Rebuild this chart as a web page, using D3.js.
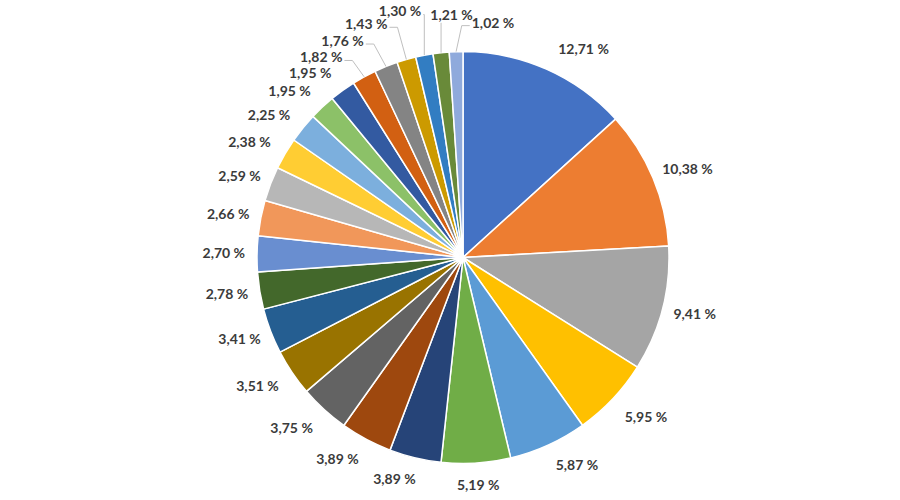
<!DOCTYPE html>
<html>
<head>
<meta charset="utf-8">
<script src="https://cdn.jsdelivr.net/npm/d3@7"></script>
<style>
  body { margin: 0; background: #fff; }
  text { font-family: Lato, "DejaVu Sans", sans-serif; font-weight: 700; }
</style>
</head>
<body>
<svg id="chart" width="900" height="500"></svg>
<script>
// share of each slice, clockwise from 12 o'clock
const values = [12.71, 10.38, 9.41, 5.95, 5.87, 5.19, 3.89, 3.89, 3.75, 3.51, 3.41,
  2.78, 2.70, 2.66, 2.59, 2.38, 2.25, 1.95, 1.95, 1.82, 1.76, 1.43, 1.30, 1.21, 1.02];

// office palette as excel cycles it
const colors = [
  "#4472C4", "#ED7D31", "#A5A5A5", "#FFC000", "#5B9BD5", "#70AD47",
  "#264478", "#9E480E", "#636363", "#997300", "#255E91", "#43682B",
  "#698ED0", "#F1975A", "#B7B7B7", "#FFCD33", "#7CAFDD", "#8CC168",
  "#335AA1", "#D26012", "#848484", "#CC9A00", "#327DC2", "#698A39",
  "#8FAADC"
];

// hand moves for crowded labels: index -> [dx, dy, leader line?]
const nudges = {
  0: [22, 0], 3: [9, 3], 4: [15, 0], 6: [-13, 0], 7: [-13, 0], 8: [-10, 2], 9: [-7, 1],
  15: [-7, 0], 16: [-8, 1], 17: [-10, 0], 18: [-13, 1],
  19: [-27, 0, 1], 20: [-31, -5, 1], 21: [-31, -14, 1], 22: [-18, -22, 1],
  23: [14, -16, 1], 24: [38, -7, 1]
};

const [cx, cy, R] = [463, 257.5, 206];
const svg = d3.select("#chart");
const g = svg.append("g").attr("transform", `translate(${cx},${cy})`);

const pie = d3.pie().sort(null).value(d => d);
const arcs = pie(values);
const arc = d3.arc().innerRadius(0).outerRadius(R);
const edge = d3.arc().innerRadius(R).outerRadius(R);

g.selectAll("path.slice").data(arcs).enter().append("path")
  .attr("class", "slice")
  .attr("d", arc)
  .attr("fill", (d, i) => colors[i])
  .attr("stroke", "#fff")
  .attr("stroke-width", 1.5)
  .attr("stroke-linejoin", "round");

const fmt = v => d3.format(".2f")(v).replace(".", ",") + " %";

const lines = g.append("g");
const labels = g.selectAll("text.lab").data(arcs).enter().append("text")
  .attr("class", "lab")
  .attr("text-anchor", "middle")
  .attr("dy", "0.35em")
  .attr("font-size", 14)
  .attr("fill", "#3b3b3b")
  .text(d => fmt(d.value));

labels.each(function(d, i) {
  const w = this.getBBox().width;
  const a = (d.startAngle + d.endAngle) / 2;
  const n = nudges[i] || [0, 0];
  const x = Math.sin(a) * (R + 12 + w / 2) + n[0];
  const y = -Math.cos(a) * (R + 22) + n[1];
  d3.select(this).attr("x", x).attr("y", y);
  if (n[2]) {
    const p = edge.centroid(d);
    const ly = y + 3;
    let pts;
    if (p[0] > x + w / 2) {
      pts = [[x + w / 2 + 2, ly], [Math.min(x + w / 2 + 10, p[0]), ly], p];
    } else if (p[0] < x - w / 2) {
      pts = [[x - w / 2 - 2, ly], [Math.max(x - w / 2 - 10, p[0]), ly], p];
    } else {
      pts = [[p[0], y + 8], p];
    }
    lines.append("path")
      .attr("d", d3.line()(pts))
      .attr("fill", "none")
      .attr("stroke", "#bfbfbf")
      .attr("stroke-width", 1);
  }
});
</script>
</body>
</html>
